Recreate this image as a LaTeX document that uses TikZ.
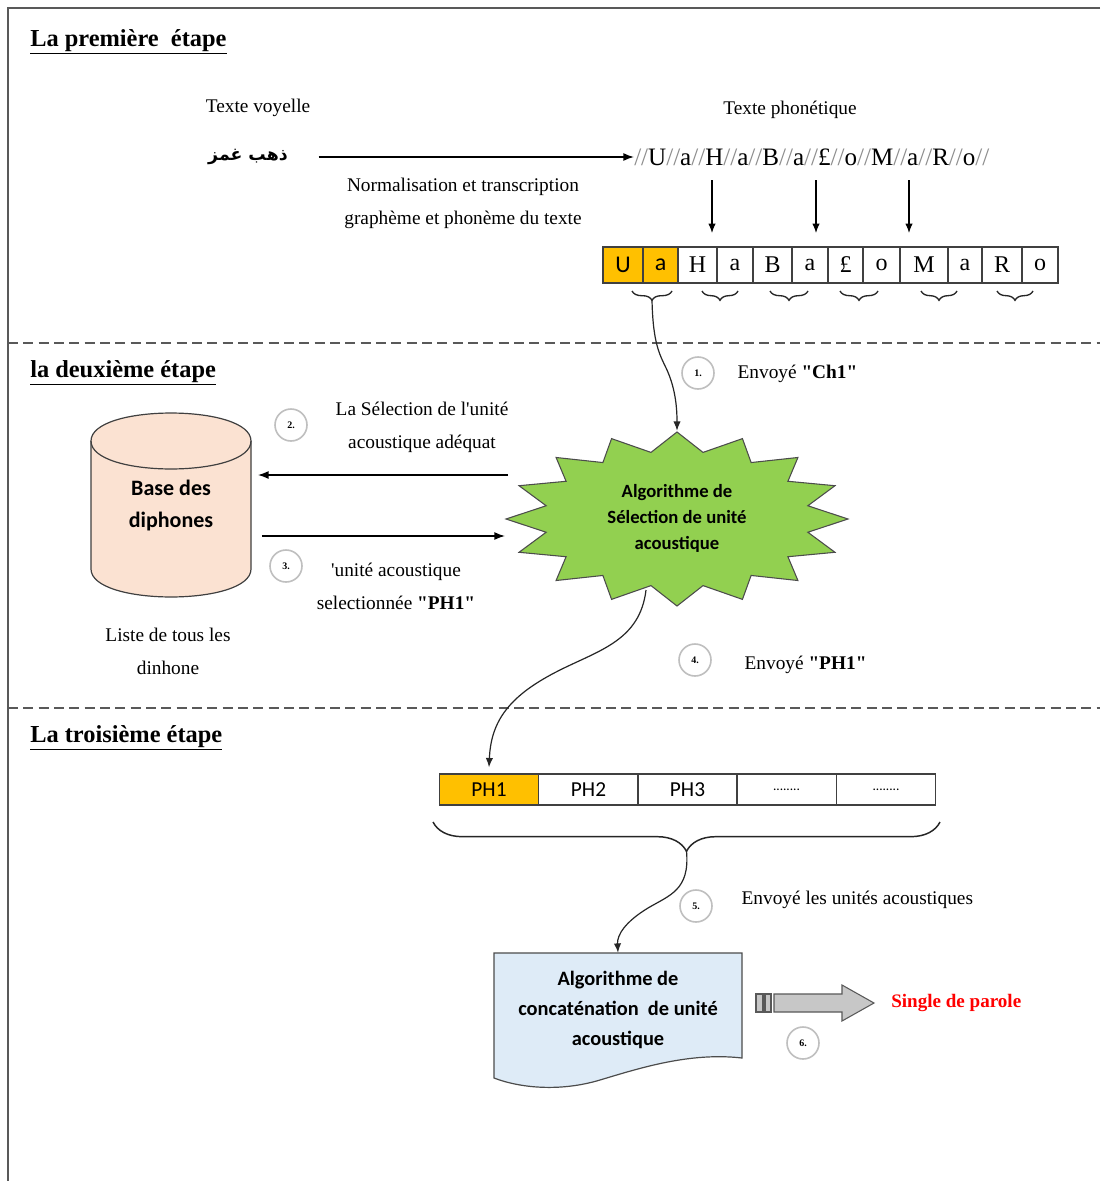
\documentclass[tikz,border=0pt]{standalone}
\usepackage{fontspec}
\newfontfamily\tnr{Liberation Serif}
\newfontfamily\calib{Carlito}
\newfontfamily\arabicfont[Script=Arabic]{DejaVu Sans}
\TeXXeTstate=1
\usetikzlibrary{arrows.meta,decorations.pathreplacing,shapes.geometric}
\definecolor{hiyel}{HTML}{FFC000}
\definecolor{starg}{HTML}{92D050}
\definecolor{peach}{HTML}{FBE2D2}
\definecolor{paleblue}{HTML}{DEEBF7}
\newcommand\dsl{\textcolor{black!45}{//}}
\tikzset{
  lbl/.style={inner sep=1pt, font=\tnr\fontsize{14.5}{24.75}\selectfont},
  head/.style={anchor=west, inner sep=0pt, font=\tnr\fontsize{18.3}{21}\selectfont\bfseries},
  arr/.style={-{Latex[length=8pt,width=6pt]}, line width=1.1pt},
  thinarr/.style={-{Latex[length=7pt,width=5.5pt]}, line width=0.9pt},
  curvarr/.style={-{Latex[length=7pt,width=5.5pt]}, line width=0.9pt, black!85},
  numc/.style={circle, draw=black!25, line width=1.2pt, fill=white, minimum size=24pt,
    inner sep=0pt, font=\tnr\fontsize{7.5}{8}\selectfont\bfseries},
  cell/.style={draw=black!75, line width=0.9pt, minimum height=27pt, inner sep=0pt,
    outer sep=0pt, font=\tnr\fontsize{18}{20}\selectfont},
  phcell/.style={draw=black!75, line width=0.9pt, minimum height=23.25pt, minimum width=74.6pt,
    inner sep=0pt, outer sep=0pt, font=\calib\fontsize{16}{18}\selectfont},
  smallbrace/.style={decorate, decoration={brace, amplitude=7pt}, line width=1pt, black!85},
  sepline/.style={line width=1.1pt, black!65, dash pattern=on 7.5pt off 4pt},
  frame/.style={line width=1.5pt, black!65},
}
\begin{document}
\begin{tikzpicture}[x=0.75pt, y=-0.75pt]
\useasboundingbox (0,0) rectangle (1100,1181);
\fill[white] (0,0) rectangle (1100,1181);

% outer frame and stage separators
\draw[frame] (1100,8) -- (8,8) -- (8,1181);
\draw[sepline] (8,343) -- (1100,343);
\draw[sepline] (8,708) -- (1100,708);

% stage headings
\node[head] (h1) at (30,42) {\underline{La première\ \ étape}};
\node[head] (h2) at (30,373) {\underline{la deuxième\ étape}};
\node[head] (h3) at (30,738) {\underline{La troisième\ étape}};

% ---------- stage 1 ----------
\node[lbl] (tv) at (258,108) {Texte voyelle};
\node[lbl] (tp) at (790,110) {Texte phonétique};
\node[inner sep=0pt, font=\arabicfont\bfseries\fontsize{13}{15}\selectfont] (arab) at (248,157) {\beginR ذهب غمز\endR};
\node[anchor=west, inner sep=0pt, font=\tnr\fontsize{18.8}{20}\selectfont] (phon) at (634,157)
  {\dsl U\dsl a\dsl H\dsl a\dsl B\dsl a\dsl £\dsl o\dsl M\dsl a\dsl R\dsl o\dsl};
\draw[arr, shorten <=23pt] (arab.east) -- (phon.west);
\node[lbl, align=center] (norm) at (463,203.5) {Normalisation et transcription\\graphème et phonème du texte};

% letter cells
\node[cell, fill=hiyel, minimum width=30pt, font=\calib\fontsize{18}{20}\selectfont] (c1) at (623,265) {U};
\node[cell, fill=hiyel, minimum width=26.25pt, font=\calib\fontsize{18}{20}\selectfont] (c2) at (660.5,265) {a};
\foreach \l/\r/\t/\n in {678/717/H/c3, 717/753/a/c4, 753/792/B/c5, 792/828/a/c6, 828/863/£/c7,
    863/900/o/c8, 900/948/M/c9, 948/982/a/c10, 982/1022/R/c11, 1022/1058/o/c12}{
  \pgfmathsetmacro\w{(\r-\l)*0.75}
  \node[cell, minimum width=\w pt] (\n) at ({(\l+\r)/2},265) {\t};
}

% arrows from the phonetic text to the cells
\foreach \x/\n in {712/p1, 816/p2, 909/p3}{
  \coordinate (\n) at (\x,180);
  \draw[thinarr, shorten >=10.5pt] (\n) -- (\n |- c1.north);
}

% braces grouping the cells
\foreach \a/\b/\n in {632/672/b1, 702/738/b2, 770/808/b3, 840/878/b4, 921/957/b5, 997/1033/b6}{
  \draw[smallbrace] (\b,291) -- (\a,291);
  \coordinate (\n) at ({(\a+\b)/2},300);
}

% ---------- stage 2 ----------
% database cylinder
\draw[fill=peach, draw=black!75, line width=0.9pt]
  (91,441) -- (91,569) .. controls (91,606.3) and (251,606.3) .. (251,569)
  -- (251,441) .. controls (251,403.7) and (91,403.7) .. (91,441) -- cycle;
\draw[draw=black!75, line width=0.9pt] (91,441) .. controls (91,478.3) and (251,478.3) .. (251,441);
\node[minimum width=120pt, minimum height=138pt, inner sep=0pt, align=center,
  font=\calib\bfseries\fontsize{16.5}{24}\selectfont] (db) at (171,506) {Base des\\diphones};
\node[lbl, align=center] (liste) at (168,651.5) {Liste de tous les\\dinhone};

% selection algorithm (sixteen-point burst)
\draw[fill=starg, draw=black!70, line width=0.8pt] (848,519)
  \foreach \k in {1,...,16}{
    -- ({677+133.4*cos(22.5*\k-11.25)},{519+67.9*sin(22.5*\k-11.25)})
    -- ({677+171*cos(22.5*\k)},{519+87*sin(22.5*\k)})
  } -- cycle;
\node[ellipse, minimum width=256.5pt, minimum height=130.5pt, inner sep=0pt, align=center,
  font=\calib\bfseries\fontsize{14}{19.5}\selectfont] (alg) at (677,518) {Algorithme de\\Sélection de unité\\acoustique};

% exchanges between the algorithm and the database
\coordinate (s2) at (508,475);
\draw[arr, shorten >=5pt] (s2) -- (s2 -| db.east);
\coordinate (s3) at (505,536);
\draw[arr, shorten <=8pt] (s3 -| db.east) -- (s3);
\node[lbl, align=center] (sel) at (422,427) {La Sélection de l'unité\\acoustique adéquat};
\node[lbl, align=center] (uni) at (396,586) {'unité acoustique\\selectionnée \textbf{"PH1"}};

% step 1: first diphone sent to the algorithm
\draw[curvarr] (b1) .. controls (653,345) and (660,355) .. (667,370)
  .. controls (676,390) and (677,410) .. (alg.north);
\node[numc] (n1) at (698,373) {1.};
\node[lbl, anchor=west] (e1) at (736,374) {Envoyé \textbf{"Ch1"}};
\node[numc] (n2) at (291,425) {2.};
\node[numc] (n3) at (286,566) {3.};

% ---------- stage 3 ----------
\node[phcell, fill=hiyel] (ph1) at (489,789.5) {PH1};
\node[phcell] (ph2) at (588.5,789.5) {PH2};
\node[phcell] (ph3) at (687.5,789.5) {PH3};
\node[phcell] (ph4) at (786.5,789.5) {\fontsize{10}{10}\selectfont ........};
\node[phcell] (ph5) at (886,789.5) {\fontsize{10}{10}\selectfont ........};

% step 4: selected unit placed in the sequence
\coordinate (algout) at (646,590);
\draw[curvarr] (algout) .. controls (640,640) and (600,650) .. (560,670)
  .. controls (510,695) and (491,720) .. ([yshift=5pt]ph1.north);
\node[numc] (n4) at (695,660) {4.};
\node[lbl, anchor=west] (e4) at (743,665) {Envoyé \textbf{"PH1"}};

% brace over the whole sequence
\draw[decorate, decoration={brace, amplitude=22pt}, line width=1.1pt, black!85] (940,822) -- (433,822);
\coordinate (bigtip) at (686.5,851);

% concatenation document
\draw[fill=paleblue, draw=black!70, line width=0.9pt]
  (494,953) -- (742,953) -- (742,1058)
  .. controls (690,1052) and (640,1068) .. (600,1080)
  .. controls (560,1092) and (520,1088) .. (494,1078) -- cycle;
\node[minimum width=186pt, minimum height=84.75pt, inner sep=0pt, align=center,
  font=\calib\bfseries\fontsize{15.3}{22.5}\selectfont] (doc) at (618,1009.5)
  {Algorithme de\\concaténation\ \ de unité\\acoustique};

% step 5: units sent for concatenation
\draw[curvarr] (bigtip) .. controls (690,890) and (670,895) .. (648,908)
  .. controls (625,922) and (617,935) .. (doc.north);
\node[numc] (n5) at (696,906) {5.};
\node[lbl, anchor=west] (e5) at (740,900) {Envoyé les unités acoustiques};

% step 6: output block arrow
\draw[fill=black!22, draw=black!65, line width=0.8pt] (756,994) rectangle (763,1012);
\draw[fill=black!22, draw=black!65, line width=0.8pt] (765,994) rectangle (771,1012);
\draw[fill=black!22, draw=black!65, line width=0.8pt]
  (774,994) -- (842,994) -- (842,985) -- (874,1003) -- (842,1021) -- (842,1012) -- (774,1012) -- cycle;
\node[numc] (n6) at (803,1043) {6.};
\node[anchor=west, inner sep=0pt, text=red, font=\tnr\bfseries\fontsize{14.3}{16}\selectfont] (out) at (891,1003) {Single de parole};
\end{tikzpicture}
\end{document}
